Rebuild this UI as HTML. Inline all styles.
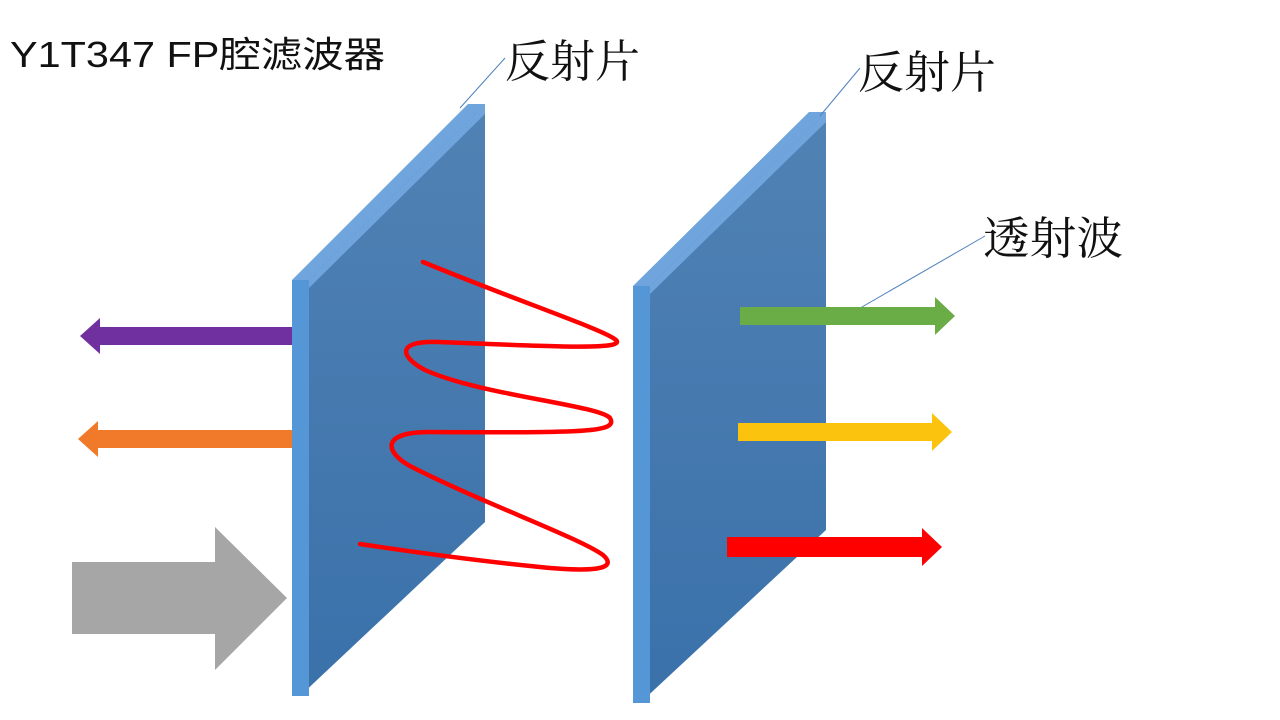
<!DOCTYPE html>
<html><head><meta charset="utf-8"><style>
html,body{margin:0;padding:0;background:#fff;width:1280px;height:720px;overflow:hidden}
</style></head><body>
<svg width="1280" height="720" viewBox="0 0 1280 720" xmlns="http://www.w3.org/2000/svg">
<defs>
<linearGradient id="face" x1="0" y1="0" x2="0" y2="1">
<stop offset="0" stop-color="#5182b4"/><stop offset="1" stop-color="#3a71aa"/>
</linearGradient>
</defs>
<text x="10" y="67" font-family="Liberation Sans, Noto Sans CJK SC, sans-serif" font-size="36" fill="#111" textLength="375" lengthAdjust="spacingAndGlyphs">Y1T347 FP腔滤波器</text>

<!-- Plate 1 -->
<polygon points="300,280 485,104 485,522 300,696" fill="url(#face)"/>
<polygon points="292,280 309,280 485,104 485,114 309,288" fill="#6fa5dc"/>
<polygon points="292,280 309,280 485,104 468,104" fill="#6fa5dc"/>
<rect x="292" y="280" width="17" height="416" fill="#5596d6"/>
<!-- Plate 2 -->
<polygon points="640,286 826,112 826,530 640,703" fill="url(#face)"/>
<polygon points="633,286 650,286 826,112 826,122 650,294" fill="#6fa5dc"/>
<polygon points="633,286 650,286 826,112 809,112" fill="#6fa5dc"/>
<rect x="633" y="286" width="17" height="417" fill="#5596d6"/>

<!-- leader lines -->
<line x1="460" y1="108" x2="505" y2="58" stroke="#4f81bd" stroke-width="1"/>
<line x1="820" y1="116" x2="860" y2="68" stroke="#4f81bd" stroke-width="1"/>
<line x1="855" y1="311" x2="985" y2="236" stroke="#4f81bd" stroke-width="1"/>

<text x="505" y="77" font-family="Liberation Serif, Noto Serif CJK SC, serif" font-size="45" fill="#111" textLength="135" lengthAdjust="spacingAndGlyphs">反射片</text>
<text x="858" y="88" font-family="Liberation Serif, Noto Serif CJK SC, serif" font-size="45" fill="#111" textLength="138" lengthAdjust="spacingAndGlyphs">反射片</text>
<text x="983" y="254" font-family="Liberation Serif, Noto Serif CJK SC, serif" font-size="45" fill="#111" textLength="140" lengthAdjust="spacingAndGlyphs">透射波</text>

<!-- red wave -->
<path d="M423,262 C520,302 605,330 616,340 C626,350 560,347 440,342 C395,340 400,357 425,370 C480,395 598,405 610,418 C618,432 590,433 430,432 C380,432 385,452 410,466 C480,502 580,538 603,555 C622,572 580,571 540,567 C470,560 400,550 360,544" fill="none" stroke="#f00" stroke-width="4.5" stroke-linecap="round"/>

<!-- left arrows -->
<polygon points="292,327 100,327 100,318 80,336 100,354 100,345 292,345" fill="#7030a0"/>
<polygon points="292,430 98,430 98,421 78,439 98,457 98,448 292,448" fill="#f07a2a"/>
<polygon points="72,562 215,562 215,527 287,598 215,670 215,634 72,634" fill="#a6a6a6"/>

<!-- right arrows -->
<polygon points="740,307 935,307 935,297 955,316 935,335 935,325 740,325" fill="#6aac46"/>
<polygon points="738,423 932,423 932,413 952,432 932,451 932,441 738,441" fill="#fbc20e"/>
<polygon points="727,537 922,537 922,528 942,547 922,566 922,557 727,557" fill="#fe0000"/>
</svg>
</body></html>
